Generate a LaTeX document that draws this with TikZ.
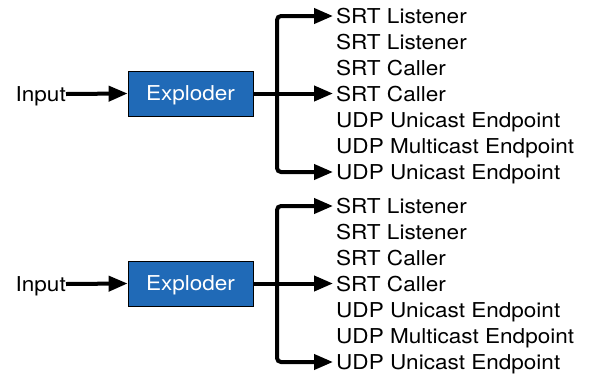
\documentclass[tikz,border=0pt]{standalone}
\usepackage{fontspec}
\setmainfont{TeX Gyre Heros}[FakeStretch=1.1]
\usetikzlibrary{arrows.meta}
\definecolor{boxblue}{RGB}{32,106,183}
\begin{document}
\begin{tikzpicture}[x=1pt,y=-1pt,
  font=\fontsize{20.5}{24}\selectfont,
  conn/.style={line width=4pt, -{Triangle[length=19pt,width=15pt]}},
  branch/.style={line width=4pt, rounded corners=4pt, -{Triangle[length=19pt,width=15pt]}},
  outlabel/.style={anchor=west, inner xsep=3pt, inner ysep=0pt, text height=14.7pt, text depth=0pt},
  inlabel/.style={anchor=east, inner sep=0pt, text height=14.7pt, text depth=0pt},
  explbox/.style={draw=black, line width=0.8pt, fill=boxblue, text=white, minimum width=125pt, minimum height=45pt, inner sep=0pt, text height=14.7pt, text depth=0pt}]
\path[use as bounding box, fill=white] (0,0) rectangle (590,373);
\foreach \g/\dy in {a/0,b/190}{
  \node[inlabel] (in\g) at (66,94+\dy) {Input};
  \node[explbox] (ex\g) at (190.5,93.5+\dy) {Exploder};
  \foreach \i/\t in {1/SRT Listener,2/SRT Listener,3/SRT Caller,4/SRT Caller,5/UDP Unicast Endpoint,6/UDP Multicast Endpoint,7/UDP Unicast Endpoint}{
    \node[outlabel] (o\g\i) at (333,16+26*\i-26+\dy) {\t};
  }
  \coordinate (j\g) at (277,94+\dy);
  \draw[conn] (in\g.east) -- (ex\g.west);
  \draw[conn] (ex\g.east) -- (ex\g.east -| o\g4.west);
  \draw[branch] (j\g) |- (o\g1.west);
  \draw[branch] (j\g) |- (o\g7.west);
}
\end{tikzpicture}
\end{document}
